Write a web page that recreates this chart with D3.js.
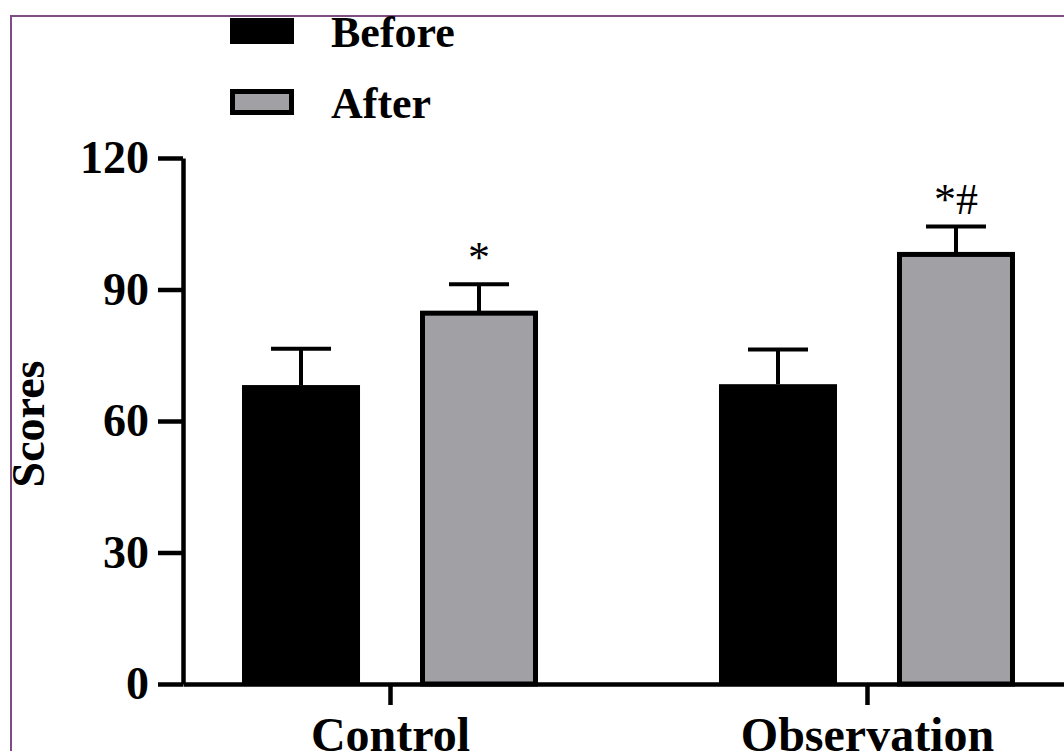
<!DOCTYPE html>
<html>
<head>
<meta charset="utf-8">
<script src="https://cdn.jsdelivr.net/npm/d3@7"></script>
<style>
  html, body { margin: 0; padding: 0; background: #fff; }
  svg { display: block; }
  text { font-family: "Liberation Serif", "Times New Roman", serif; }
</style>
</head>
<body>
<svg id="chart"></svg>
<script>
// Data
const groups = ["Control", "Observation"];
const series = ["Before", "After"];
const beforeMean = [68.2, 68.4];
const beforeSd = [8.3, 7.9];
const afterMean = [84.6, 98.0];
const afterSd = [6.6, 6.4];
const marks = ["*", "*#"];
const yTicks = [0, 30, 60, 90, 120];

const W = 1064, H = 751;
const grey = "#a1a0a5";
const purple = "#7d4d84";

const svg = d3.select("#chart").attr("width", W).attr("height", H);

// frame
svg.append("rect")
  .attr("x", 11).attr("y", 16)
  .attr("width", W + 20).attr("height", H + 20)
  .attr("fill", "#fff")
  .attr("stroke", purple)
  .attr("stroke-width", 2);

// scales
const y = d3.scaleLinear().domain([0, 120]).range([684, 158]);
const x0 = d3.scalePoint().domain(groups).range([183, 1074]).padding(0.434);
const x1 = d3.scaleBand().domain(series).range([-148, 148]).paddingInner(0.337);

const rows = groups.map((g, i) => [
  { g, s: "Before", v: beforeMean[i], sd: beforeSd[i] },
  { g, s: "After", v: afterMean[i], sd: afterSd[i], mark: marks[i] }
]).flat();

const bx = d => x0(d.g) + x1(d.s);
const bw = x1.bandwidth();

// error bars (upward only)
const err = svg.append("g").attr("stroke", "#000").attr("stroke-width", 4);
err.selectAll(".stem")
  .data(rows).enter().append("line")
  .attr("x1", d => bx(d) + bw / 2).attr("x2", d => bx(d) + bw / 2)
  .attr("y1", d => y(d.v)).attr("y2", d => y(d.v + d.sd));
err.selectAll(".cap")
  .data(rows).enter().append("line")
  .attr("x1", d => bx(d) + bw / 2 - 30).attr("x2", d => bx(d) + bw / 2 + 30)
  .attr("y1", d => y(d.v + d.sd)).attr("y2", d => y(d.v + d.sd));

// bars
svg.append("g").selectAll("rect")
  .data(rows).enter().append("rect")
  .attr("x", d => d.s === "After" ? bx(d) + 2.5 : bx(d))
  .attr("width", d => d.s === "After" ? bw - 5 : bw)
  .attr("y", d => y(d.v))
  .attr("height", d => y(0) - y(d.v))
  .attr("fill", d => d.s === "After" ? grey : "#000")
  .attr("stroke", d => d.s === "After" ? "#000" : "none")
  .attr("stroke-width", 5);

// significance marks
svg.append("g").selectAll("text")
  .data(rows.filter(d => d.mark)).enter().append("text")
  .attr("x", d => bx(d) + bw / 2)
  .attr("y", d => y(d.v + d.sd) - 12)
  .attr("text-anchor", "middle")
  .style("font-size", "44px")
  .text(d => d.mark);

// y axis
const yAxis = svg.append("g")
  .attr("transform", "translate(183,0)")
  .call(d3.axisLeft(y).tickValues(yTicks).tickSize(25).tickSizeOuter(0).tickPadding(9));
yAxis.selectAll("path, line").attr("stroke", "#000").attr("stroke-width", 4.5);
yAxis.selectAll("text")
  .attr("fill", "#000")
  .style("font-size", "46px")
  .style("font-weight", "bold")
  .attr("font-family", null);

// x axis
const xAxis = svg.append("g")
  .attr("transform", "translate(0,684)")
  .call(d3.axisBottom(x0).tickSize(21).tickSizeOuter(0).tickPadding(12));
xAxis.selectAll("path, line").attr("stroke", "#000").attr("stroke-width", 4.5);
xAxis.selectAll("text")
  .attr("fill", "#000")
  .style("font-size", "48px")
  .style("font-weight", "bold")
  .attr("font-family", null);

// y label
svg.append("text")
  .attr("transform", "translate(44,424) rotate(-90)")
  .attr("text-anchor", "middle")
  .style("font-size", "46px")
  .style("font-weight", "bold")
  .text("Scores");

// legend
const legend = svg.append("g").selectAll("g")
  .data(series).enter().append("g")
  .attr("transform", (d, i) => `translate(230,${18 + i * 71})`);
legend.append("rect")
  .attr("x", d => d === "After" ? 2.5 : 0)
  .attr("y", d => d === "After" ? 2.5 : 0)
  .attr("width", d => d === "After" ? 59 : 64)
  .attr("height", d => d === "After" ? 21 : 26)
  .attr("fill", d => d === "After" ? grey : "#000")
  .attr("stroke", d => d === "After" ? "#000" : "none")
  .attr("stroke-width", 5);
legend.append("text")
  .attr("x", 101)
  .attr("y", 29)
  .style("font-size", "44px")
  .style("font-weight", "bold")
  .text(d => d);
</script>
</body>
</html>
